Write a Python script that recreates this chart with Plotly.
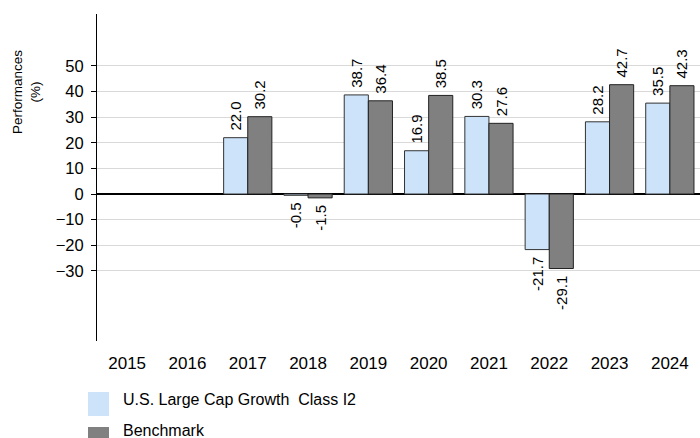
import plotly.graph_objects as go

years = ["2015", "2016", "2017", "2018", "2019", "2020", "2021", "2022", "2023", "2024"]
fund = [None, None, 22.0, -0.5, 38.7, 16.9, 30.3, -21.7, 28.2, 35.5]
bench = [None, None, 30.2, -1.5, 36.4, 38.5, 27.6, -29.1, 42.7, 42.3]
fund_name = "U.S. Large Cap Growth  Class I2"
bench_name = "Benchmark"
y_title = "Performances<br>(%)"
ytick_vals = [-30, -20, -10, 0, 10, 20, 30, 40, 50]

FUND_COLOR = "#cce3fa"
BENCH_COLOR = "#808080"
FONT = "Liberation Sans, Arial, sans-serif"

L, R, T, B = 97, 0, 14, 97
W, H = 700, 438
PW, PH = W - L - R, H - T - B

def px_x(x):
    return (x - L) / PW

def px_y(y):
    return (H - B - y) / PH

NB = "\u00a0"

def labels(vals):
    out = []
    for v in vals:
        if v is None:
            out.append("")
        elif v >= 0:
            out.append(NB + f"{v:.1f}")
        else:
            out.append(f"{v:.1f}" + NB)
    return out

fig = go.Figure()
for name, vals, color, lc in [(fund_name, fund, FUND_COLOR, "#333333"),
                              (bench_name, bench, BENCH_COLOR, "#222222")]:
    fig.add_trace(go.Bar(
        x=years, y=vals, name=name,
        marker=dict(color=color, line=dict(color=lc, width=1)),
        text=labels(vals), textposition="outside", textangle=-90,
        textfont=dict(size=15, color="#000000", family=FONT),
        constraintext="none", cliponaxis=False, showlegend=False,
        hoverinfo="skip",
    ))

# legend drawn as swatches + text
legend_items = [(fund_name, FUND_COLOR, 392, 399), (bench_name, BENCH_COLOR, 427, 430)]
shapes = []
annotations = []
for name, color, ytop, ytext in legend_items:
    shapes.append(dict(type="rect", xref="paper", yref="paper",
                       x0=px_x(88), x1=px_x(109),
                       y0=px_y(ytop + 24), y1=px_y(ytop),
                       fillcolor=color, line=dict(width=0), layer="above"))
    annotations.append(dict(text=name, xref="paper", yref="paper",
                            x=px_x(121), y=px_y(ytext),
                            xanchor="left", yanchor="middle", showarrow=False,
                            font=dict(size=16, color="#000000", family=FONT)))

annotations.append(dict(text=y_title, xref="paper", yref="paper",
                        x=px_x(26), y=px_y(92), textangle=-90,
                        xanchor="center", yanchor="middle", showarrow=False,
                        font=dict(size=13.5, color="#000000", family=FONT)))

fig.update_layout(
    width=W, height=H,
    margin=dict(l=L, r=R, t=T, b=B, autoexpand=False),
    paper_bgcolor="white", plot_bgcolor="white",
    barmode="group", bargap=0.2, bargroupgap=0,
    font=dict(family=FONT, color="#000000"),
    shapes=shapes, annotations=annotations,
    xaxis=dict(
        type="category", showline=False, showgrid=False, ticks="",
        tickfont=dict(size=17, color="#000000"), automargin=False,
        ticklabelstandoff=10,
    ),
    yaxis=dict(
        range=[-57.4, 70.3], tickvals=ytick_vals,
        showline=True, linecolor="#000000", linewidth=1,
        ticks="outside", ticklen=5, tickcolor="#000000",
        showgrid=True, gridcolor="#d9d9d9", gridwidth=1,
        zeroline=True, zerolinecolor="#000000", zerolinewidth=1.5,
        tickfont=dict(size=16.5, color="#000000"), automargin=False,
        ticklabelstandoff=4,
    ),
)

fig.write_html("out.html", config={"displayModeBar": False},
               post_script="document.body.style.margin='0';document.body.style.overflow='hidden';")
